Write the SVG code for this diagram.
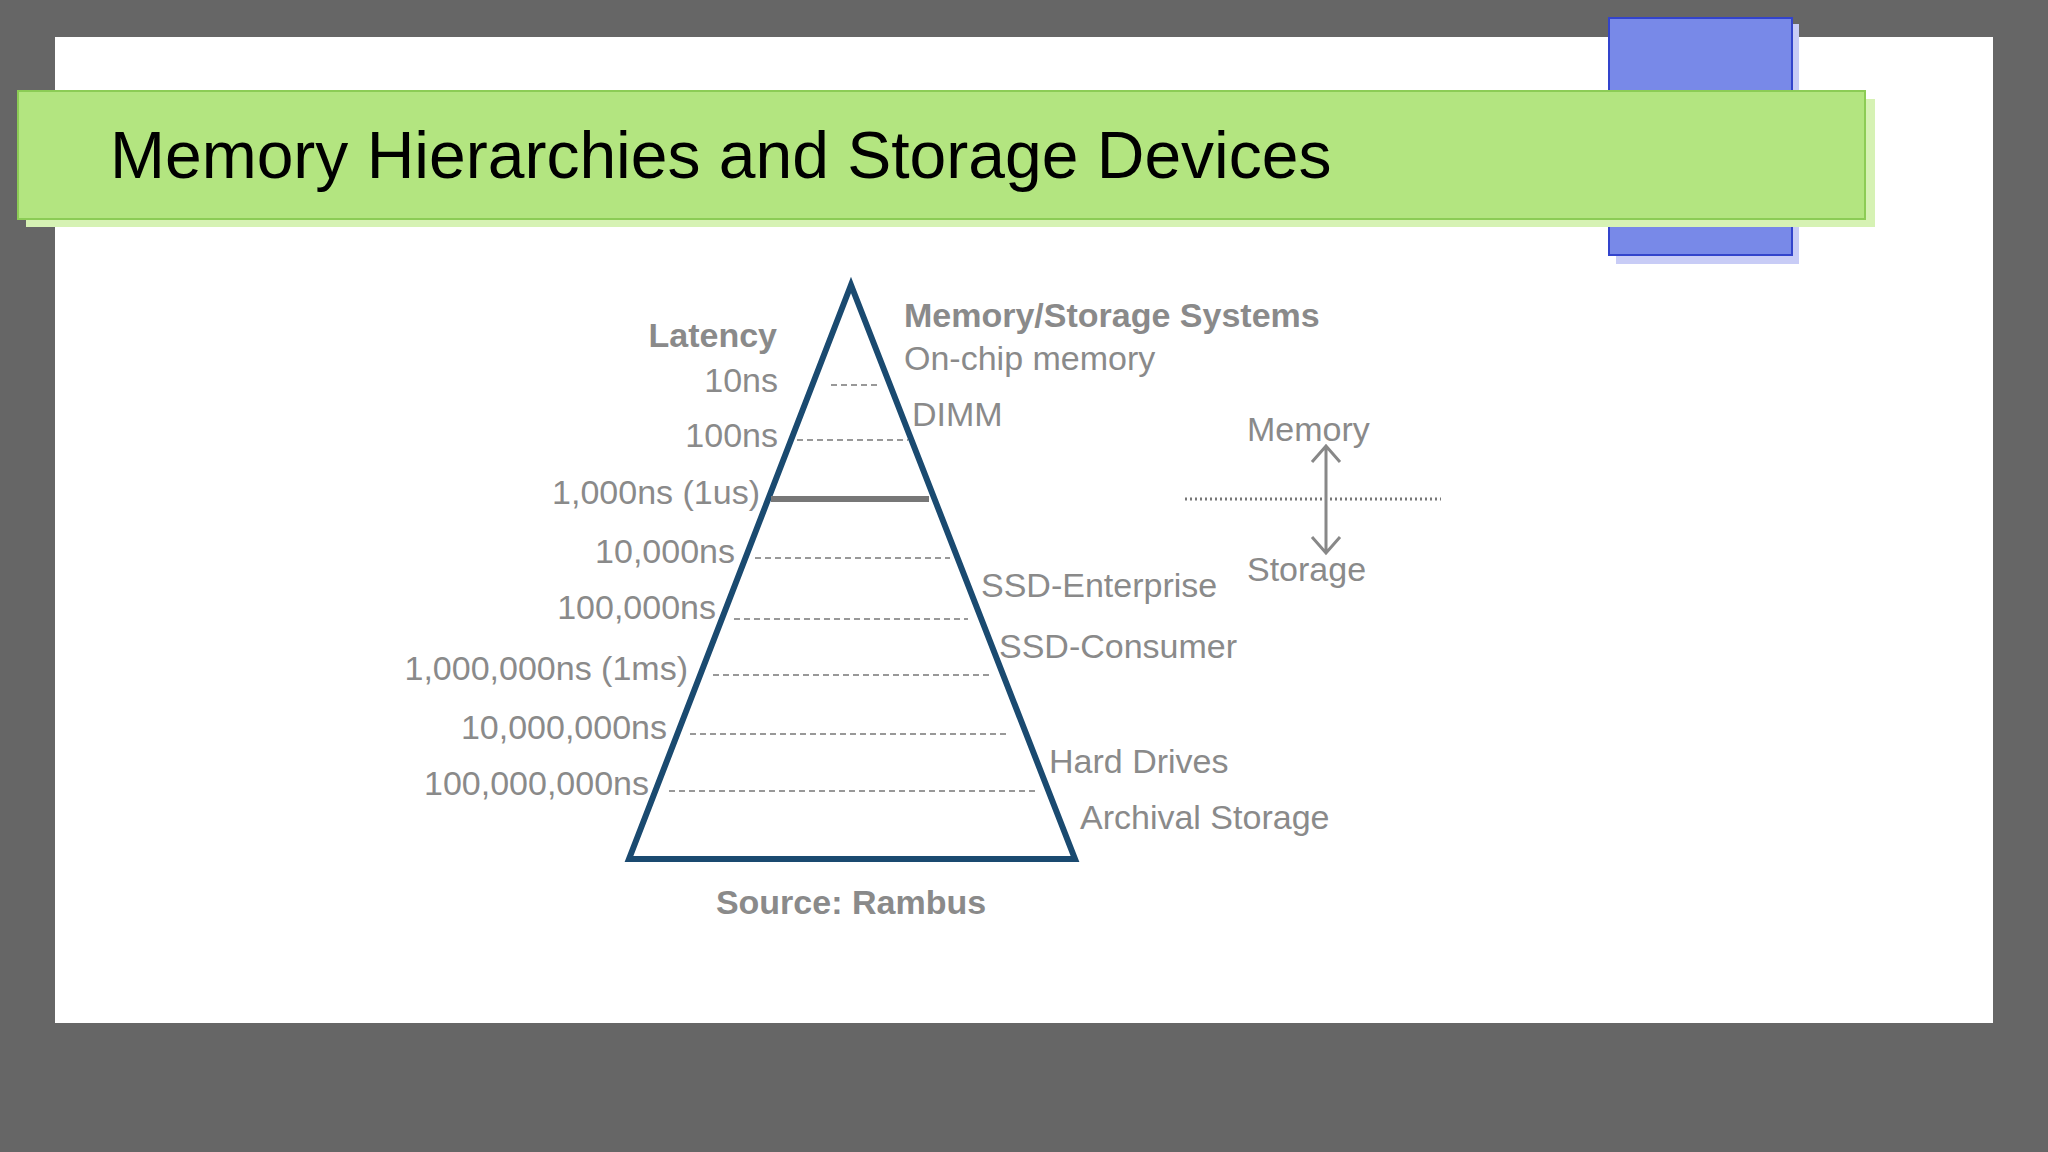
<svg xmlns="http://www.w3.org/2000/svg" width="2048" height="1152" viewBox="0 0 2048 1152">
<style>
.l{font-family:"Liberation Sans",Arial,sans-serif;font-size:34px;fill:#8a8a8a}
.b{font-weight:bold}
.e{text-anchor:end}
.d{stroke:#777;stroke-width:1.5;stroke-dasharray:6,4}
</style>
<rect width="2048" height="1152" fill="#666"/>
<rect x="55" y="37" width="1938" height="986" fill="#fff"/>
<g id="bluebox"><rect x="1616" y="24" width="183" height="240" fill="#c8ccf6"/><rect x="1609" y="18" width="183" height="237" fill="#7889e8" stroke="#3344cc" stroke-width="2"/></g>
<g id="banner"><rect x="26" y="99" width="1849" height="128" fill="#d6f2b4"/><rect x="18" y="91" width="1847" height="128" fill="#b3e580" stroke="#8ccc55" stroke-width="2"/>
<text x="110" y="178" font-family="Liberation Sans,Arial,sans-serif" font-size="66" fill="#000">Memory Hierarchies and Storage Devices</text></g>
<g id="pyramid"><polygon points="851,285 629,859 1075,859" fill="none" stroke="#1a4a70" stroke-width="6" stroke-linejoin="miter"/></g>
<g id="connectors">
<line class="d" x1="831" y1="385" x2="878" y2="385"/>
<line class="d" x1="797" y1="440" x2="908" y2="440"/>
<line x1="771" y1="499" x2="929" y2="499" stroke="#777" stroke-width="6"/>
<line class="d" x1="755" y1="558" x2="950" y2="558"/>
<line class="d" x1="734" y1="619" x2="968" y2="619"/>
<line class="d" x1="713" y1="675" x2="993" y2="675"/>
<line class="d" x1="690" y1="734" x2="1010" y2="734"/>
<line class="d" x1="669" y1="791" x2="1038" y2="791"/>
<line x1="1185" y1="499" x2="1441" y2="499" stroke="#777" stroke-width="3" stroke-dasharray="2,3"/>
<path d="M1326 446V553M1312 462L1326 446L1340 462M1312 537L1326 553L1340 537" fill="none" stroke="#888" stroke-width="3"/>
</g>
<g id="labels">
<text class="l b e" x="777" y="347">Latency</text>
<text class="l e" x="778" y="392">10ns</text>
<text class="l e" x="778" y="447">100ns</text>
<text class="l e" x="760" y="504">1,000ns (1us)</text>
<text class="l e" x="735" y="563">10,000ns</text>
<text class="l e" x="716" y="619">100,000ns</text>
<text class="l e" x="688" y="680">1,000,000ns (1ms)</text>
<text class="l e" x="667" y="739">10,000,000ns</text>
<text class="l e" x="649" y="795">100,000,000ns</text>
<text class="l b" x="904" y="327">Memory/Storage Systems</text>
<text class="l" x="904" y="370">On-chip memory</text>
<text class="l" x="912" y="426">DIMM</text>
<text class="l" x="981" y="597">SSD-Enterprise</text>
<text class="l" x="999" y="658">SSD-Consumer</text>
<text class="l" x="1049" y="773">Hard Drives</text>
<text class="l" x="1080" y="829">Archival Storage</text>
<text class="l" x="1247" y="441">Memory</text>
<text class="l" x="1247" y="581">Storage</text>
<text class="l b" x="851" y="914" text-anchor="middle" font-size="26">Source: Rambus</text>
</g>
</svg>
